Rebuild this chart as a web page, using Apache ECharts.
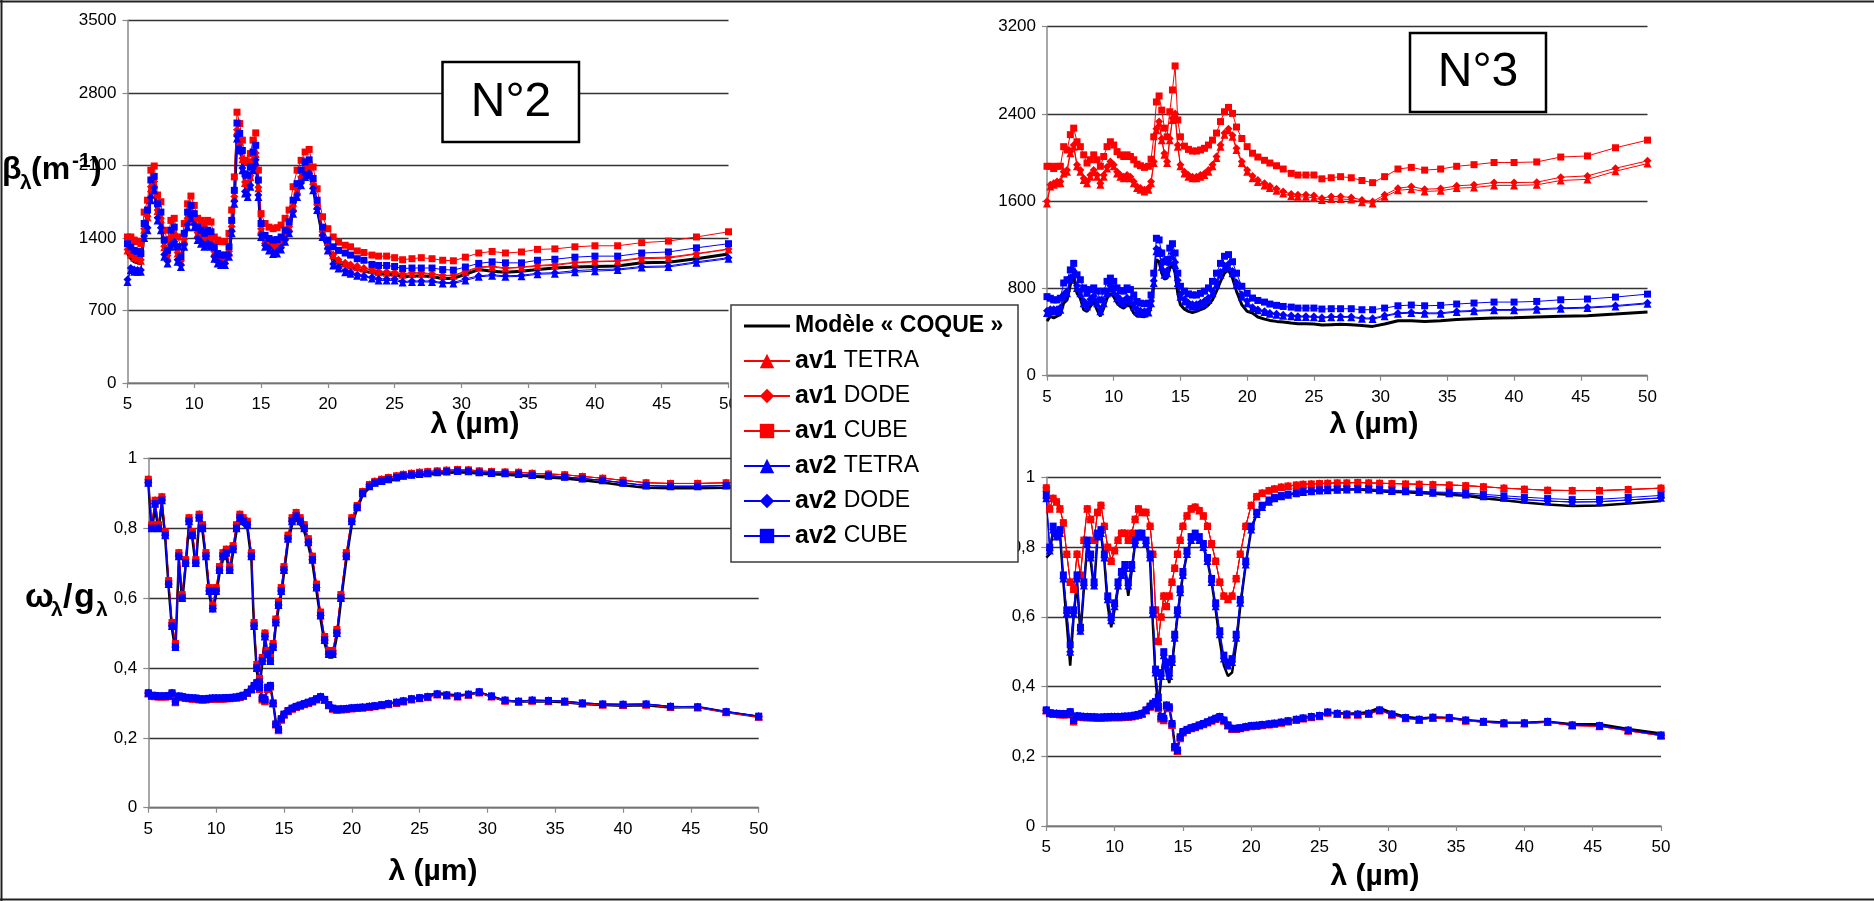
<!DOCTYPE html>
<html>
<head>
<meta charset="utf-8">
<title>Extinction, albédo et asymétrie – échantillons N°2 et N°3</title>
<script src="https://cdn.jsdelivr.net/npm/echarts/dist/echarts.min.js"></script>
<style>
  html, body { margin: 0; padding: 0; background: #fff; }
  #chart { width: 1874px; height: 901px; }
</style>
</head>
<body>
<div id="chart"></div>
<script>
// Wavelength grid (µm) shared by every curve
const lambda = [
  5, 5.25, 5.5, 5.75, 6, 6.25, 6.5, 6.75, 7, 7.25, 7.5, 7.75, 8, 8.25, 8.5, 8.75, 9, 9.25, 9.5, 9.75, 10, 10.25, 10.5, 10.75, 11, 11.25, 11.5, 11.75, 12,
  12.3, 12.6, 12.8, 13, 13.2, 13.4, 13.6, 13.8, 14, 14.2, 14.4, 14.6, 14.8, 15, 15.3, 15.6, 15.9, 16.2, 16.5, 16.8, 17.1, 17.4, 17.7, 18, 18.3, 18.6, 18.9, 19.2, 19.6, 20,
  20.4, 20.8, 21.3, 21.7, 22.2, 22.7, 23.3, 23.8, 24.4, 25, 25.6, 26.3, 27, 27.8, 28.6, 29.4, 30.3, 31.3, 32.3, 33.3, 34.5, 35.7, 37, 38.5, 40, 41.7, 43.5, 45.5, 47.6, 50
];

const xTicks = [5, 10, 15, 20, 25, 30, 35, 40, 45, 50];
const betaN2Ticks = [0, 700, 1400, 2100, 2800, 3500];
const betaN3Ticks = [0, 800, 1600, 2400, 3200];
const omegaTicks = [0, 0.2, 0.4, 0.6, 0.8, 1];

// ---- Sample N°2 : extinction coefficient beta (m-1)
const betaN2Coque = [
  1250, 1200, 1170, 1160, 1150, 1450, 1560, 1840, 1890, 1620, 1540, 1280, 1190, 1370, 1400, 1220, 1150, 1350, 1550, 1620, 1540, 1410, 1380, 1350, 1380, 1360, 1230, 1180, 1165,
  1165, 1240, 1470, 1760, 2400, 2300, 2130, 1900, 1880, 1960, 2110, 2180, 1850, 1450, 1350, 1315, 1300, 1305, 1330, 1390, 1470, 1670, 1830, 1950, 2030, 2050, 1880, 1680, 1420, 1290,
  1200, 1160, 1135, 1120, 1095, 1080, 1065, 1055, 1050, 1045, 1025, 1030, 1035, 1025, 1010, 1010, 1050, 1095, 1080, 1070, 1080, 1095, 1110, 1120, 1125, 1130, 1160, 1165, 1200, 1245
];
const betaN2Av1Tetra = [
  1280, 1240, 1210, 1200, 1180, 1480, 1600, 1880, 1930, 1660, 1580, 1310, 1220, 1400, 1430, 1250, 1170, 1380, 1580, 1650, 1570, 1440, 1410, 1380, 1410, 1390, 1260, 1200, 1185,
  1185, 1260, 1500, 1790, 2430, 2330, 2160, 1930, 1910, 1990, 2140, 2210, 1880, 1480, 1380, 1345, 1330, 1335, 1360, 1420, 1500, 1700, 1860, 1980, 2060, 2080, 1910, 1710, 1450, 1320,
  1235, 1185, 1155, 1135, 1120, 1105, 1090, 1070, 1065, 1065, 1045, 1055, 1055, 1050, 1035, 1035, 1070, 1115, 1120, 1105, 1115, 1130, 1135, 1160, 1170, 1175, 1200, 1205, 1245, 1290
];
const betaN2Av1Dode = [
  1290, 1250, 1220, 1210, 1190, 1490, 1610, 1895, 1945, 1670, 1590, 1320, 1230, 1410, 1440, 1260, 1180, 1390, 1590, 1660, 1580, 1450, 1420, 1390, 1420, 1400, 1270, 1210, 1195,
  1195, 1270, 1510, 1800, 2445, 2340, 2170, 1940, 1920, 2000, 2150, 2220, 1890, 1490, 1390, 1355, 1340, 1345, 1370, 1430, 1510, 1710, 1870, 1990, 2070, 2090, 1920, 1720, 1460, 1330,
  1240, 1190, 1160, 1145, 1130, 1110, 1095, 1080, 1075, 1070, 1055, 1065, 1065, 1055, 1040, 1040, 1080, 1120, 1130, 1110, 1120, 1135, 1145, 1165, 1175, 1180, 1210, 1215, 1250, 1295
];
const betaN2Av1Cube = [
  1410, 1410, 1380, 1365, 1345, 1650, 1765, 2055, 2095, 1815, 1750, 1475, 1380, 1570, 1590, 1410, 1315, 1540, 1730, 1805, 1715, 1590, 1570, 1540, 1570, 1555, 1410, 1380, 1365,
  1365, 1445, 1670, 1990, 2615, 2505, 2345, 2150, 2135, 2215, 2345, 2415, 2055, 1635, 1540, 1505, 1490, 1500, 1525, 1590, 1670, 1895, 2055, 2150, 2230, 2255, 2085, 1875, 1605, 1490,
  1410, 1360, 1330, 1315, 1275, 1260, 1235, 1225, 1225, 1210, 1190, 1200, 1210, 1200, 1185, 1180, 1215, 1255, 1270, 1255, 1265, 1290, 1295, 1315, 1325, 1325, 1355, 1370, 1410, 1460
];
const betaN2Av2Tetra = [
  975, 1090, 1075, 1075, 1075, 1400, 1475, 1765, 1860, 1570, 1475, 1220, 1155, 1315, 1345, 1170, 1120, 1315, 1505, 1590, 1505, 1380, 1345, 1315, 1330, 1315, 1200, 1155, 1140,
  1140, 1220, 1445, 1730, 2360, 2245, 2055, 1830, 1795, 1895, 2055, 2135, 1795, 1410, 1315, 1280, 1245, 1250, 1290, 1365, 1445, 1635, 1795, 1910, 1990, 2005, 1860, 1670, 1410, 1280,
  1135, 1105, 1070, 1055, 1035, 1025, 1010, 990, 990, 990, 970, 975, 975, 975, 960, 960, 990, 1025, 1035, 1025, 1030, 1050, 1055, 1070, 1080, 1090, 1115, 1120, 1160, 1200
];
const betaN2Av2Dode = [
  1000, 1110, 1095, 1090, 1090, 1420, 1500, 1790, 1885, 1595, 1500, 1240, 1175, 1335, 1365, 1190, 1140, 1335, 1530, 1610, 1530, 1400, 1365, 1335, 1350, 1335, 1220, 1170, 1155,
  1155, 1235, 1465, 1755, 2385, 2270, 2075, 1850, 1815, 1910, 2075, 2155, 1815, 1430, 1330, 1300, 1260, 1270, 1305, 1380, 1460, 1655, 1815, 1930, 2010, 2025, 1880, 1685, 1430, 1300,
  1150, 1120, 1085, 1070, 1045, 1035, 1020, 1005, 1005, 1005, 980, 985, 985, 985, 970, 970, 1005, 1035, 1045, 1035, 1040, 1060, 1065, 1085, 1095, 1100, 1125, 1130, 1170, 1210
];
const betaN2Av2Cube = [
  1345, 1315, 1280, 1270, 1250, 1540, 1670, 1960, 1995, 1730, 1650, 1380, 1280, 1475, 1505, 1315, 1220, 1445, 1650, 1715, 1635, 1505, 1475, 1445, 1475, 1460, 1315, 1250, 1235,
  1235, 1315, 1570, 1860, 2510, 2410, 2245, 2020, 2005, 2085, 2230, 2295, 1960, 1540, 1425, 1395, 1380, 1385, 1410, 1475, 1555, 1765, 1925, 2055, 2135, 2155, 1975, 1765, 1505, 1380,
  1315, 1280, 1255, 1235, 1200, 1185, 1145, 1135, 1135, 1125, 1105, 1110, 1110, 1110, 1095, 1090, 1120, 1155, 1170, 1160, 1160, 1185, 1195, 1215, 1225, 1225, 1255, 1265, 1305, 1345
];

// ---- Sample N°3 : extinction coefficient beta (m-1)
const betaN3Coque = [
  500, 545, 530, 545, 560, 665, 695, 835, 910, 755, 710, 605, 590, 635, 680, 605, 545, 620, 710, 755, 725, 665, 635, 620, 650, 635, 575, 545, 545,
  540, 560, 635, 820, 1065, 1045, 940, 885, 895, 985, 1025, 940, 755, 650, 610, 590, 580, 590, 605, 620, 650, 695, 775, 865, 940, 970, 895, 775, 650, 590,
  574, 538, 519, 507, 498, 492, 483, 477, 477, 474, 464, 468, 471, 468, 461, 452, 474, 504, 504, 498, 504, 516, 522, 529, 532, 538, 544, 550, 565, 584
];
const betaN3Av1Tetra = [
  1580, 1735, 1750, 1765, 1765, 1855, 1870, 2040, 2100, 1920, 1870, 1795, 1765, 1825, 1870, 1825, 1750, 1825, 1900, 1950, 1920, 1855, 1825, 1810, 1825, 1810, 1765, 1720, 1705,
  1690, 1705, 1765, 1950, 2250, 2315, 2160, 2025, 1950, 2160, 2345, 2390, 2100, 1920, 1855, 1825, 1810, 1810, 1825, 1840, 1870, 1920, 1995, 2100, 2210, 2250, 2190, 2070, 1950, 1870,
  1810, 1775, 1745, 1720, 1695, 1670, 1645, 1640, 1640, 1630, 1610, 1620, 1620, 1615, 1590, 1580, 1640, 1700, 1710, 1690, 1695, 1720, 1725, 1745, 1745, 1750, 1790, 1800, 1875, 1945
];
const betaN3Av1Dode = [
  1600, 1750, 1765, 1780, 1780, 1870, 1885, 2055, 2115, 1935, 1885, 1810, 1780, 1840, 1885, 1840, 1765, 1840, 1915, 1965, 1935, 1870, 1840, 1825, 1840, 1825, 1780, 1735, 1720,
  1705, 1720, 1780, 1965, 2265, 2330, 2175, 2040, 1965, 2175, 2360, 2405, 2115, 1935, 1870, 1840, 1825, 1825, 1840, 1855, 1885, 1935, 2010, 2115, 2225, 2265, 2205, 2085, 1965, 1885,
  1830, 1795, 1765, 1740, 1715, 1690, 1665, 1660, 1658, 1652, 1628, 1643, 1643, 1634, 1612, 1597, 1658, 1719, 1734, 1710, 1716, 1741, 1750, 1771, 1771, 1774, 1820, 1832, 1902, 1970
];
const betaN3Av1Cube = [
  1920, 1920, 1900, 1920, 1920, 2100, 2070, 2210, 2270, 2145, 2100, 2025, 1950, 1980, 2025, 1980, 1920, 2010, 2100, 2145, 2115, 2055, 2025, 2010, 2025, 2010, 1980, 1940, 1925,
  1910, 1920, 1985, 2190, 2510, 2565, 2435, 2270, 2190, 2420, 2620, 2840, 2345, 2190, 2105, 2075, 2060, 2060, 2070, 2085, 2115, 2160, 2225, 2330, 2420, 2460, 2405, 2280, 2175, 2100,
  2040, 2005, 1975, 1950, 1925, 1895, 1855, 1840, 1840, 1840, 1805, 1815, 1825, 1815, 1790, 1770, 1825, 1895, 1910, 1885, 1895, 1920, 1935, 1955, 1955, 1960, 2005, 2015, 2090, 2160
];
const betaN3Av2Tetra = [
  575, 590, 590, 590, 605, 725, 755, 880, 940, 805, 755, 665, 635, 680, 710, 665, 590, 665, 755, 805, 775, 710, 680, 665, 695, 680, 635, 590, 575,
  570, 580, 665, 850, 1140, 1125, 1000, 925, 940, 1045, 1095, 1015, 850, 725, 680, 650, 635, 635, 650, 665, 695, 755, 835, 925, 985, 1000, 940, 835, 725, 665,
  620, 599, 584, 568, 559, 550, 544, 538, 538, 535, 529, 535, 535, 535, 522, 519, 544, 568, 574, 568, 568, 584, 590, 599, 599, 605, 614, 620, 635, 660
];
const betaN3Av2Dode = [
  595, 610, 610, 610, 625, 745, 775, 900, 960, 825, 775, 685, 655, 700, 730, 685, 610, 685, 775, 825, 795, 730, 700, 685, 715, 700, 655, 610, 595,
  590, 600, 685, 870, 1165, 1150, 1025, 950, 965, 1070, 1120, 1040, 875, 745, 700, 670, 655, 655, 670, 685, 715, 775, 855, 950, 1010, 1025, 960, 855, 745, 685,
  628, 607, 592, 576, 567, 558, 552, 546, 546, 543, 537, 543, 543, 543, 530, 527, 552, 576, 582, 576, 576, 592, 598, 607, 607, 613, 622, 628, 643, 668
];
const betaN3Av2Cube = [
  725, 710, 695, 695, 710, 850, 880, 970, 1030, 925, 880, 805, 755, 790, 805, 775, 695, 775, 865, 895, 865, 805, 780, 775, 805, 790, 740, 680, 665,
  660, 665, 740, 940, 1260, 1245, 1125, 1045, 1065, 1170, 1210, 1125, 940, 820, 775, 750, 740, 740, 755, 775, 805, 865, 940, 1030, 1095, 1110, 1045, 940, 820, 755,
  712, 690, 675, 657, 645, 635, 629, 620, 620, 620, 611, 614, 614, 614, 605, 605, 620, 641, 648, 641, 645, 657, 666, 675, 675, 681, 696, 703, 721, 748
];

// ---- Sample N°2 : single-scattering albedo (omega) and asymmetry factor (g)
const omegaN2Coque = [
  0.93, 0.79, 0.86, 0.79, 0.87, 0.77, 0.63, 0.51, 0.45, 0.71, 0.59, 0.69, 0.81, 0.77, 0.69, 0.82, 0.79, 0.71, 0.61, 0.56, 0.61, 0.67, 0.71, 0.72, 0.67, 0.73, 0.79, 0.82, 0.81,
  0.80, 0.71, 0.51, 0.39, 0.35, 0.41, 0.48, 0.43, 0.41, 0.45, 0.52, 0.57, 0.61, 0.67, 0.76, 0.81, 0.825, 0.81, 0.79, 0.75, 0.70, 0.62, 0.54, 0.47, 0.43, 0.43, 0.49, 0.59, 0.71, 0.81,
  0.855, 0.895, 0.915, 0.926, 0.931, 0.936, 0.941, 0.946, 0.949, 0.951, 0.953, 0.956, 0.958, 0.96, 0.959, 0.956, 0.954, 0.953, 0.951, 0.948, 0.945, 0.942, 0.937, 0.931, 0.923, 0.916, 0.914, 0.914, 0.916, 0.92
];
const omegaN2Av1 = [
  0.94, 0.81, 0.88, 0.81, 0.89, 0.79, 0.65, 0.53, 0.47, 0.73, 0.61, 0.71, 0.83, 0.79, 0.71, 0.84, 0.81, 0.73, 0.63, 0.58, 0.63, 0.69, 0.73, 0.74, 0.69, 0.75, 0.81, 0.84, 0.83,
  0.82, 0.73, 0.53, 0.41, 0.37, 0.43, 0.50, 0.45, 0.43, 0.47, 0.54, 0.59, 0.63, 0.69, 0.78, 0.83, 0.845, 0.83, 0.81, 0.77, 0.72, 0.64, 0.56, 0.49, 0.45, 0.45, 0.51, 0.61, 0.73, 0.83,
  0.865, 0.905, 0.925, 0.934, 0.94, 0.945, 0.95, 0.954, 0.957, 0.96, 0.962, 0.964, 0.966, 0.968, 0.967, 0.964, 0.962, 0.961, 0.96, 0.957, 0.955, 0.953, 0.948, 0.943, 0.937, 0.93, 0.928, 0.928, 0.93, 0.933
];
const omegaN2Av2 = [
  0.93, 0.80, 0.87, 0.80, 0.88, 0.78, 0.64, 0.52, 0.46, 0.72, 0.60, 0.70, 0.82, 0.78, 0.70, 0.83, 0.80, 0.72, 0.62, 0.57, 0.62, 0.68, 0.72, 0.73, 0.68, 0.74, 0.80, 0.83, 0.82,
  0.81, 0.72, 0.52, 0.40, 0.36, 0.42, 0.49, 0.44, 0.42, 0.46, 0.53, 0.58, 0.62, 0.68, 0.77, 0.82, 0.835, 0.82, 0.80, 0.76, 0.71, 0.63, 0.55, 0.48, 0.44, 0.44, 0.50, 0.60, 0.72, 0.82,
  0.86, 0.90, 0.92, 0.93, 0.935, 0.94, 0.945, 0.95, 0.953, 0.955, 0.957, 0.96, 0.962, 0.964, 0.963, 0.96, 0.958, 0.957, 0.955, 0.952, 0.95, 0.947, 0.942, 0.937, 0.93, 0.922, 0.92, 0.92, 0.922, 0.925
];
const gN2Coque = [
  0.33, 0.322, 0.321, 0.32, 0.32, 0.32, 0.321, 0.327, 0.308, 0.32, 0.318, 0.316, 0.315, 0.314, 0.314, 0.312, 0.311, 0.312, 0.313, 0.314, 0.314, 0.314, 0.314, 0.315, 0.315, 0.316, 0.317, 0.319, 0.322,
  0.33, 0.34, 0.35, 0.356, 0.343, 0.317, 0.312, 0.343, 0.348, 0.302, 0.245, 0.23, 0.256, 0.268, 0.278, 0.285, 0.29, 0.294, 0.298, 0.302, 0.307, 0.313, 0.32, 0.312, 0.297, 0.286, 0.282, 0.283, 0.284, 0.286,
  0.287, 0.288, 0.29, 0.292, 0.295, 0.298, 0.302, 0.306, 0.312, 0.316, 0.321, 0.328, 0.325, 0.321, 0.324, 0.33, 0.318, 0.306, 0.303, 0.305, 0.304, 0.302, 0.297, 0.294, 0.292, 0.293, 0.287, 0.288, 0.274, 0.26
];
const gN2Av1 = [
  0.327, 0.32, 0.319, 0.318, 0.318, 0.318, 0.319, 0.326, 0.302, 0.318, 0.316, 0.314, 0.313, 0.312, 0.312, 0.31, 0.309, 0.31, 0.311, 0.312, 0.312, 0.312, 0.312, 0.313, 0.313, 0.314, 0.315, 0.317, 0.32,
  0.328, 0.338, 0.348, 0.355, 0.34, 0.31, 0.305, 0.34, 0.347, 0.298, 0.238, 0.222, 0.252, 0.266, 0.276, 0.283, 0.288, 0.292, 0.296, 0.3, 0.304, 0.31, 0.316, 0.308, 0.293, 0.283, 0.28, 0.281, 0.282, 0.284,
  0.285, 0.286, 0.288, 0.29, 0.293, 0.296, 0.3, 0.304, 0.31, 0.313, 0.316, 0.324, 0.321, 0.318, 0.323, 0.33, 0.318, 0.306, 0.303, 0.306, 0.305, 0.303, 0.298, 0.295, 0.294, 0.295, 0.288, 0.287, 0.273, 0.26
];
const gN2Av2 = [
  0.329, 0.322, 0.321, 0.32, 0.32, 0.32, 0.321, 0.329, 0.305, 0.32, 0.318, 0.316, 0.315, 0.314, 0.314, 0.312, 0.311, 0.312, 0.313, 0.314, 0.314, 0.314, 0.314, 0.315, 0.315, 0.316, 0.317, 0.319, 0.322,
  0.33, 0.34, 0.35, 0.358, 0.345, 0.315, 0.31, 0.345, 0.35, 0.30, 0.24, 0.225, 0.255, 0.268, 0.278, 0.285, 0.29, 0.294, 0.298, 0.302, 0.306, 0.312, 0.318, 0.31, 0.295, 0.285, 0.282, 0.283, 0.284, 0.286,
  0.287, 0.288, 0.29, 0.292, 0.295, 0.298, 0.302, 0.306, 0.312, 0.315, 0.318, 0.326, 0.323, 0.32, 0.325, 0.332, 0.32, 0.308, 0.305, 0.308, 0.307, 0.305, 0.30, 0.297, 0.296, 0.297, 0.29, 0.289, 0.275, 0.262
];

// ---- Sample N°3 : single-scattering albedo (omega) and asymmetry factor (g)
const omegaN3Coque = [
  0.77, 0.78, 0.85, 0.83, 0.84, 0.70, 0.58, 0.46, 0.60, 0.70, 0.55, 0.68, 0.81, 0.76, 0.68, 0.83, 0.84, 0.76, 0.63, 0.57, 0.62, 0.68, 0.72, 0.73, 0.66, 0.73, 0.81, 0.83, 0.83,
  0.81, 0.76, 0.58, 0.42, 0.34, 0.42, 0.48, 0.44, 0.41, 0.46, 0.53, 0.60, 0.66, 0.72, 0.78, 0.82, 0.83, 0.82, 0.80, 0.76, 0.70, 0.62, 0.53, 0.46, 0.43, 0.44, 0.52, 0.63, 0.75, 0.85,
  0.895, 0.915, 0.93, 0.94, 0.945, 0.95, 0.955, 0.958, 0.96, 0.962, 0.963, 0.964, 0.965, 0.965, 0.963, 0.96, 0.958, 0.957, 0.955, 0.953, 0.95, 0.947, 0.94, 0.934, 0.928, 0.922, 0.918, 0.919, 0.925, 0.932
];
const omegaN3Av1 = [
  0.97, 0.91, 0.94, 0.93, 0.91, 0.87, 0.78, 0.70, 0.68, 0.78, 0.72, 0.82, 0.91, 0.88, 0.82, 0.90, 0.92, 0.86, 0.80, 0.76, 0.79, 0.82, 0.84, 0.84, 0.82, 0.84, 0.88, 0.91, 0.90,
  0.90, 0.86, 0.78, 0.62, 0.53, 0.60, 0.66, 0.63, 0.66, 0.70, 0.74, 0.78, 0.82, 0.86, 0.89, 0.91, 0.915, 0.905, 0.89, 0.86, 0.81, 0.76, 0.70, 0.66, 0.65, 0.66, 0.71, 0.78, 0.86, 0.92,
  0.945, 0.955, 0.962, 0.967, 0.972, 0.975, 0.978, 0.98, 0.981, 0.982, 0.983, 0.984, 0.984, 0.985, 0.984, 0.983, 0.982, 0.981, 0.98, 0.979, 0.978, 0.976, 0.973, 0.969, 0.966, 0.963, 0.962, 0.962, 0.965, 0.969
];
const omegaN3Av2 = [
  0.94, 0.79, 0.85, 0.83, 0.84, 0.71, 0.61, 0.50, 0.61, 0.71, 0.56, 0.69, 0.81, 0.77, 0.69, 0.83, 0.84, 0.77, 0.65, 0.59, 0.63, 0.69, 0.72, 0.74, 0.69, 0.74, 0.81, 0.83, 0.83,
  0.81, 0.77, 0.61, 0.44, 0.36, 0.43, 0.49, 0.46, 0.43, 0.47, 0.54, 0.61, 0.67, 0.72, 0.78, 0.82, 0.83, 0.82, 0.80, 0.76, 0.70, 0.63, 0.55, 0.48, 0.46, 0.47, 0.54, 0.64, 0.75, 0.85,
  0.895, 0.915, 0.93, 0.94, 0.946, 0.95, 0.954, 0.958, 0.96, 0.962, 0.963, 0.964, 0.965, 0.966, 0.965, 0.963, 0.961, 0.96, 0.958, 0.956, 0.954, 0.951, 0.946, 0.941, 0.936, 0.932, 0.929, 0.93, 0.935, 0.941
];
const omegaN3Av2Cube = [
  0.95, 0.80, 0.86, 0.84, 0.85, 0.72, 0.62, 0.52, 0.62, 0.72, 0.57, 0.70, 0.82, 0.78, 0.70, 0.84, 0.85, 0.78, 0.66, 0.60, 0.64, 0.70, 0.73, 0.75, 0.70, 0.75, 0.82, 0.84, 0.84,
  0.82, 0.78, 0.62, 0.45, 0.37, 0.44, 0.50, 0.47, 0.44, 0.48, 0.55, 0.62, 0.68, 0.73, 0.79, 0.83, 0.84, 0.83, 0.81, 0.77, 0.71, 0.64, 0.56, 0.49, 0.47, 0.48, 0.55, 0.65, 0.76, 0.86,
  0.90, 0.92, 0.935, 0.942, 0.948, 0.952, 0.956, 0.96, 0.962, 0.964, 0.965, 0.966, 0.967, 0.968, 0.967, 0.965, 0.963, 0.962, 0.96, 0.958, 0.957, 0.955, 0.951, 0.947, 0.943, 0.939, 0.936, 0.937, 0.942, 0.948
];
const gN3Coque = [
  0.333, 0.325, 0.323, 0.323, 0.322, 0.322, 0.322, 0.326, 0.307, 0.316, 0.315, 0.314, 0.314, 0.313, 0.313, 0.312, 0.312, 0.313, 0.313, 0.314, 0.314, 0.314, 0.314, 0.315, 0.315, 0.316, 0.318, 0.32, 0.323,
  0.333, 0.344, 0.352, 0.357, 0.34, 0.316, 0.311, 0.345, 0.34, 0.297, 0.233, 0.222, 0.256, 0.27, 0.276, 0.281, 0.285, 0.29, 0.294, 0.299, 0.305, 0.311, 0.317, 0.307, 0.292, 0.281, 0.28, 0.282, 0.285, 0.288,
  0.289, 0.291, 0.293, 0.295, 0.298, 0.302, 0.306, 0.31, 0.314, 0.318, 0.324, 0.324, 0.322, 0.323, 0.327, 0.339, 0.324, 0.313, 0.308, 0.311, 0.31, 0.304, 0.30, 0.297, 0.296, 0.299, 0.292, 0.292, 0.278, 0.265
];
const gN3Av1 = [
  0.331, 0.323, 0.321, 0.321, 0.32, 0.32, 0.32, 0.325, 0.3, 0.314, 0.313, 0.312, 0.312, 0.311, 0.311, 0.31, 0.31, 0.311, 0.311, 0.312, 0.312, 0.312, 0.312, 0.313, 0.313, 0.314, 0.316, 0.318, 0.321,
  0.331, 0.342, 0.35, 0.355, 0.338, 0.308, 0.303, 0.343, 0.338, 0.29, 0.225, 0.215, 0.252, 0.268, 0.275, 0.28, 0.283, 0.288, 0.292, 0.297, 0.302, 0.307, 0.312, 0.302, 0.288, 0.278, 0.278, 0.28, 0.283, 0.286,
  0.287, 0.289, 0.291, 0.293, 0.296, 0.3, 0.304, 0.308, 0.312, 0.315, 0.325, 0.321, 0.319, 0.319, 0.321, 0.331, 0.319, 0.309, 0.304, 0.31, 0.309, 0.302, 0.298, 0.294, 0.294, 0.298, 0.288, 0.286, 0.273, 0.259
];
const gN3Av2 = [
  0.333, 0.325, 0.323, 0.323, 0.322, 0.322, 0.322, 0.328, 0.304, 0.316, 0.315, 0.314, 0.314, 0.313, 0.313, 0.312, 0.312, 0.313, 0.313, 0.314, 0.314, 0.314, 0.314, 0.315, 0.315, 0.316, 0.318, 0.32, 0.323,
  0.333, 0.344, 0.352, 0.357, 0.342, 0.314, 0.309, 0.347, 0.342, 0.294, 0.228, 0.218, 0.256, 0.271, 0.277, 0.282, 0.285, 0.29, 0.294, 0.299, 0.304, 0.309, 0.314, 0.304, 0.29, 0.28, 0.28, 0.282, 0.285, 0.288,
  0.289, 0.291, 0.293, 0.295, 0.298, 0.302, 0.306, 0.31, 0.314, 0.317, 0.327, 0.323, 0.321, 0.321, 0.323, 0.333, 0.321, 0.311, 0.306, 0.312, 0.311, 0.304, 0.30, 0.296, 0.296, 0.30, 0.29, 0.288, 0.275, 0.261
];

// ---------------------------------------------------------------------------
const FONT = '"Liberation Sans", Arial, Helvetica, sans-serif';
const RED = '#ff0000', BLUE = '#0000ff', BLACK = '#000000';

// Series families: name shown in the legend and the way each one is drawn
const families = {
  coque:    { name: 'Modèle « COQUE »', color: BLACK, symbol: 'none' },
  av1Tetra: { name: 'av1 TETRA', color: RED,  symbol: 'triangle', size: 8 },
  av1Dode:  { name: 'av1 DODE',  color: RED,  symbol: 'diamond',  size: 8 },
  av1Cube:  { name: 'av1 CUBE',  color: RED,  symbol: 'rect',     size: 7 },
  av2Tetra: { name: 'av2 TETRA', color: BLUE, symbol: 'triangle', size: 8 },
  av2Dode:  { name: 'av2 DODE',  color: BLUE, symbol: 'diamond',  size: 8 },
  av2Cube:  { name: 'av2 CUBE',  color: BLUE, symbol: 'rect',     size: 7 }
};

function curve(panel, key, values, coqueWidth) {
  if (values.length !== lambda.length) {
    throw new Error('length mismatch for ' + key + ' in panel ' + panel + ': ' + values.length);
  }
  const f = families[key];
  const isLine = f.symbol === 'none';
  return {
    type: 'line',
    name: f.name,
    xAxisIndex: panel,
    yAxisIndex: panel,
    data: lambda.map((x, i) => [x, values[i]]),
    symbol: isLine ? 'none' : f.symbol,
    symbolSize: f.size || 0,
    showSymbol: !isLine,
    lineStyle: { color: f.color, width: isLine ? coqueWidth : 1 },
    itemStyle: { color: f.color },
    emphasis: { disabled: true },
    silent: true,
    animation: false
  };
}

function familySet(panel, sets, coqueWidth) {
  return [
    curve(panel, 'coque', sets.coque, coqueWidth),
    curve(panel, 'av1Tetra', sets.av1Tetra, coqueWidth),
    curve(panel, 'av1Dode', sets.av1Dode, coqueWidth),
    curve(panel, 'av1Cube', sets.av1Cube, coqueWidth),
    curve(panel, 'av2Tetra', sets.av2Tetra, coqueWidth),
    curve(panel, 'av2Dode', sets.av2Dode, coqueWidth),
    curve(panel, 'av2Cube', sets.av2Cube, coqueWidth)
  ];
}

const series = [].concat(
  familySet(0, { coque: betaN2Coque, av1Tetra: betaN2Av1Tetra, av1Dode: betaN2Av1Dode, av1Cube: betaN2Av1Cube,
                 av2Tetra: betaN2Av2Tetra, av2Dode: betaN2Av2Dode, av2Cube: betaN2Av2Cube }, 3),
  familySet(1, { coque: betaN3Coque, av1Tetra: betaN3Av1Tetra, av1Dode: betaN3Av1Dode, av1Cube: betaN3Av1Cube,
                 av2Tetra: betaN3Av2Tetra, av2Dode: betaN3Av2Dode, av2Cube: betaN3Av2Cube }, 3),
  familySet(2, { coque: omegaN2Coque, av1Tetra: omegaN2Av1, av1Dode: omegaN2Av1, av1Cube: omegaN2Av1,
                 av2Tetra: omegaN2Av2, av2Dode: omegaN2Av2, av2Cube: omegaN2Av2 }, 2.5),
  familySet(2, { coque: gN2Coque, av1Tetra: gN2Av1, av1Dode: gN2Av1, av1Cube: gN2Av1,
                 av2Tetra: gN2Av2, av2Dode: gN2Av2, av2Cube: gN2Av2 }, 2.5),
  familySet(3, { coque: omegaN3Coque, av1Tetra: omegaN3Av1, av1Dode: omegaN3Av1, av1Cube: omegaN3Av1,
                 av2Tetra: omegaN3Av2, av2Dode: omegaN3Av2, av2Cube: omegaN3Av2Cube }, 2.5),
  familySet(3, { coque: gN3Coque, av1Tetra: gN3Av1, av1Dode: gN3Av1, av1Cube: gN3Av1,
                 av2Tetra: gN3Av2, av2Dode: gN3Av2, av2Cube: gN3Av2 }, 2.5)
);

// Panel frames: top row = extinction, bottom row = albedo / asymmetry
const grids = [
  { left: 127.5, top: 20.5, width: 601, height: 362.5 },
  { left: 1047, top: 26.7, width: 600.5, height: 349 },
  { left: 148.3, top: 458.3, width: 610.4, height: 349.4 },
  { left: 1046.3, top: 477.3, width: 614.7, height: 348.7 }
];
const yTickSets = [betaN2Ticks, betaN3Ticks, omegaTicks, omegaTicks];

const AXIS_GREY = '#8a8a8a';
function commaLabel(v) {
  if (v === 0) return '0';
  if (Math.abs(v - 1) < 1e-9) return '1';
  return v.toFixed(1).replace('.', ',');
}

const xAxes = grids.map((g, i) => ({
  type: 'value', gridIndex: i,
  min: xTicks[0], max: xTicks[xTicks.length - 1], interval: xTicks[1] - xTicks[0],
  axisLine: { show: true, onZero: false, lineStyle: { color: AXIS_GREY, width: 1.5 } },
  axisTick: { show: true, inside: false, length: 5, lineStyle: { color: AXIS_GREY, width: 1.2 } },
  axisLabel: { show: true, margin: 13, fontSize: 17, color: '#000', fontFamily: FONT, hideOverlap: false },
  splitLine: { show: false }
}));

const yAxes = grids.map((g, i) => {
  const t = yTickSets[i];
  return {
    type: 'value', gridIndex: i,
    min: t[0], max: t[t.length - 1], interval: t[1] - t[0],
    axisLine: { show: true, lineStyle: { color: AXIS_GREY, width: 1.5 } },
    axisTick: { show: true, inside: false, length: 5, lineStyle: { color: AXIS_GREY, width: 1.2 } },
    axisLabel: {
      show: true, margin: 11, fontSize: 17, color: '#000', fontFamily: FONT, hideOverlap: false,
      formatter: i >= 2 ? commaLabel : (v) => String(v)
    },
    splitLine: { show: true, lineStyle: { color: '#333333', width: 1.4 } }
  };
});

function txt(x, y, text, size, weight, align) {
  return {
    type: 'text', x: x, y: y, z: 35,
    style: {
      text: text, fill: '#000',
      font: (weight || 'normal') + ' ' + size + 'px ' + FONT,
      align: align || 'left', textAlign: align || 'left',
      verticalAlign: 'middle', textVerticalAlign: 'middle'
    }
  };
}

const graphics = [
  // outer frame
  { type: 'line', z: 50, shape: { x1: 0, y1: 1.5, x2: 1874, y2: 1.5 }, style: { stroke: '#222', lineWidth: 2 } },
  { type: 'line', z: 50, shape: { x1: 1.5, y1: 0, x2: 1.5, y2: 901 }, style: { stroke: '#222', lineWidth: 2 } },
  { type: 'line', z: 50, shape: { x1: 0, y1: 899.5, x2: 1874, y2: 899.5 }, style: { stroke: '#222', lineWidth: 2 } },
  // legend frame
  { type: 'rect', z: 30, shape: { x: 731, y: 305, width: 287, height: 257 },
    style: { fill: '#fff', stroke: '#3c3c3c', lineWidth: 1.5 } },
  // sample labels
  { type: 'rect', z: 30, shape: { x: 442.5, y: 62, width: 136.5, height: 80 },
    style: { fill: '#fff', stroke: '#000', lineWidth: 2.5 } },
  txt(511, 103, 'N°2', 48, 'normal', 'center'),
  { type: 'rect', z: 30, shape: { x: 1410, y: 33, width: 136, height: 79 },
    style: { fill: '#fff', stroke: '#000', lineWidth: 2.5 } },
  txt(1478, 73, 'N°3', 48, 'normal', 'center'),
  // x-axis titles
  txt(475, 425, 'λ (µm)', 30, 'bold', 'center'),
  txt(1374, 425, 'λ (µm)', 30, 'bold', 'center'),
  txt(433, 872, 'λ (µm)', 30, 'bold', 'center'),
  txt(1375, 877, 'λ (µm)', 30, 'bold', 'center'),
  // y-axis title, extinction
  txt(2, 170, 'β', 32, 'bold'),
  txt(20, 183, 'λ', 21, 'bold'),
  txt(31, 170, '(m', 32, 'bold'),
  txt(72, 161, '-1', 21, 'bold'),
  txt(91, 170, ')', 32, 'bold'),
  // y-axis title, albedo / asymmetry
  txt(25, 598, 'ω', 34, 'bold'),
  txt(51, 610, 'λ', 21, 'bold'),
  txt(63, 598, '/', 34, 'bold'),
  txt(74, 598, 'g', 34, 'bold'),
  txt(96, 610, 'λ', 21, 'bold')
];

const legendNames = Object.keys(families).map(k => families[k].name);

const option = {
  animation: false,
  backgroundColor: '#ffffff',
  textStyle: { fontFamily: FONT },
  grid: grids.map(g => Object.assign({ containLabel: false, outerBoundsMode: 'none', show: false }, g)),
  xAxis: xAxes,
  yAxis: yAxes,
  legend: {
    show: true, z: 40,
    orient: 'vertical', left: 731, top: 305,
    padding: [7, 10, 7, 12],
    itemWidth: 46, itemHeight: 18, itemGap: 7,
    selectedMode: false,
    data: legendNames.map((n, i) => i === 0
      ? { name: n, icon: 'path://M0,0 L46,0 L46,3 L0,3 Z', itemStyle: { color: BLACK } }
      : { name: n }),
    formatter: (name) => {
      if (name.indexOf('av') === 0) {
        const parts = name.split(' ');
        return '{a|' + parts[0] + ' }{n|' + parts[1] + '}';
      }
      return '{m|' + name + '}';
    },
    textStyle: {
      color: '#000', fontFamily: FONT, lineHeight: 28,
      rich: {
        a: { fontSize: 25, fontWeight: 'bold', fontFamily: FONT, color: '#000', lineHeight: 28 },
        n: { fontSize: 23, fontWeight: 'normal', fontFamily: FONT, color: '#000', lineHeight: 28 },
        m: { fontSize: 23, fontWeight: 'bold', fontFamily: FONT, color: '#000', lineHeight: 28 }
      }
    }
  },
  graphic: { elements: graphics },
  series: series
};

const chart = echarts.init(document.getElementById('chart'), null, { renderer: 'canvas' });
chart.setOption(option);
</script>
</body>
</html>
